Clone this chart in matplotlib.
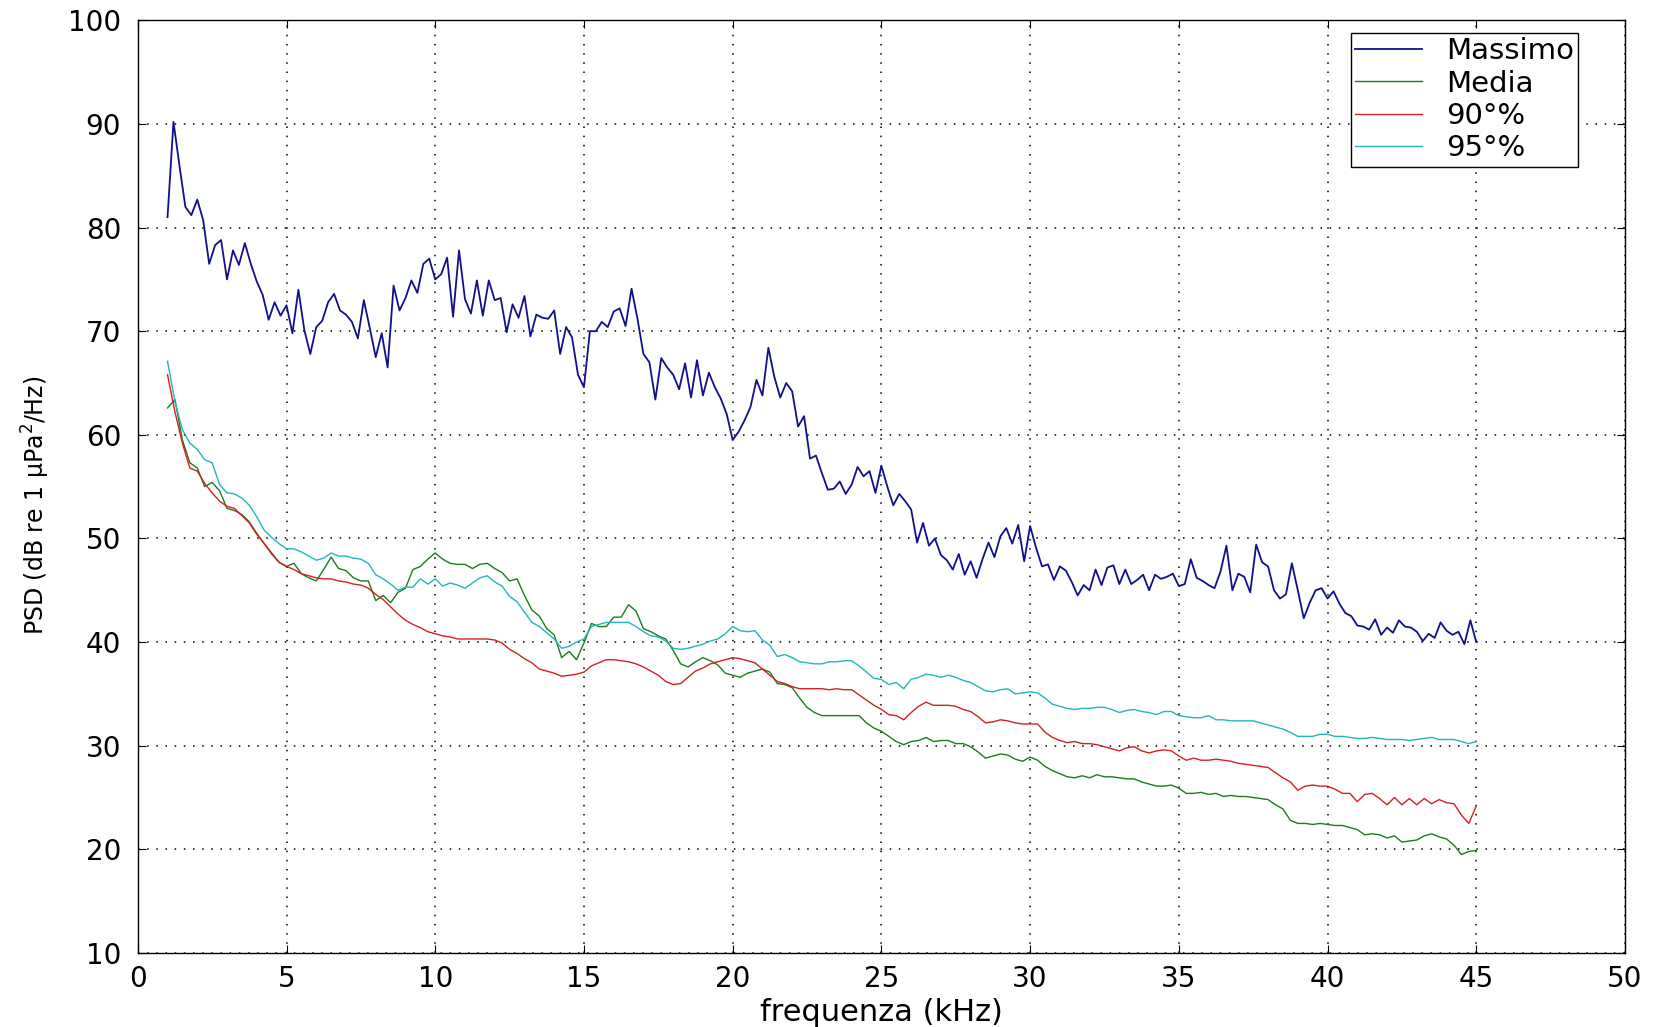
import numpy as np
from matplotlib import pyplot as plt

# PSD massima, passo 0.2 kHz da 1 a 45 kHz
massimo = [
    81.0, 90.2, 86.0, 82.0, 81.2, 82.7, 80.7, 76.5, 78.3, 78.8,
    75.0, 77.8, 76.4, 78.5, 76.5, 74.8, 73.5, 71.1, 72.8, 71.5,
    72.5, 69.8, 74.0, 70.1, 67.8, 70.4, 71.0, 72.8, 73.6, 72.0,
    71.6, 70.9, 69.3, 73.0, 70.3, 67.5, 69.8, 66.5, 74.4, 72.0,
    73.2, 74.9, 73.7, 76.5, 77.0, 75.0, 75.5, 77.1, 71.4, 77.8,
    73.1, 71.7, 74.9, 71.5, 74.9, 73.0, 73.2, 69.9, 72.6, 71.3,
    73.4, 69.5, 71.6, 71.3, 71.2, 72.0, 67.8, 70.4, 69.4, 65.8,
    64.6, 70.0, 70.0, 70.9, 70.4, 71.9, 72.2, 70.5, 74.1, 71.2,
    67.8, 67.0, 63.4, 67.4, 66.5, 65.8, 64.4, 66.9, 63.6, 67.2,
    63.8, 66.0, 64.6, 63.5, 62.0, 59.5, 60.3, 61.4, 62.7, 65.3,
    63.8, 68.4, 65.6, 63.6, 65.0, 64.2, 60.8, 61.8, 57.7, 58.0,
    56.3, 54.7, 54.8, 55.5, 54.3, 55.2, 56.9, 56.0, 56.5, 54.4,
    57.0, 55.0, 53.2, 54.3, 53.6, 52.8, 49.6, 51.5, 49.3, 50.0,
    48.4, 47.9, 47.0, 48.5, 46.5, 47.8, 46.2, 48.0, 49.6, 48.2,
    50.2, 51.0, 49.5, 51.3, 47.8, 51.2, 49.1, 47.3, 47.5, 46.0,
    47.3, 46.9, 45.8, 44.5, 45.5, 45.0, 47.0, 45.5, 47.2, 47.4,
    45.6, 47.0, 45.6, 46.0, 46.5, 45.0, 46.5, 46.1, 46.3, 46.6,
    45.4, 45.6, 48.0, 46.2, 45.9, 45.5, 45.2, 46.8, 49.3, 45.0,
    46.6, 46.3, 44.8, 49.4, 47.7, 47.3, 45.0, 44.2, 44.6, 47.6,
    45.0, 42.3, 43.8, 45.0, 45.2, 44.2, 44.9, 43.7, 42.8, 42.5,
    41.6, 41.5, 41.2, 42.2, 40.7, 41.4, 40.9, 42.1, 41.5, 41.4,
    41.0, 40.1, 40.8, 40.4, 41.9, 41.1, 40.7, 41.0, 39.8, 42.1,
    40.0,
]

# media e percentili, passo 0.25 kHz da 1 a 45 kHz
media = [
    62.6, 63.4, 59.5, 57.3, 56.8, 55.0, 55.4, 54.6,
    52.9, 52.7, 52.3, 51.6, 50.5, 49.5, 48.6, 47.7,
    47.3, 47.6, 46.6, 46.2, 45.9, 47.0, 48.2, 47.1,
    46.9, 46.2, 45.9, 45.9, 44.0, 44.5, 43.8, 44.8,
    45.2, 47.0, 47.3, 48.0, 48.6, 48.0, 47.6, 47.5,
    47.5, 47.1, 47.5, 47.6, 47.1, 46.7, 45.9, 46.1,
    44.5, 43.1, 42.5, 41.3, 40.7, 38.5, 39.1, 38.3,
    39.9, 41.8, 41.5, 41.5, 42.4, 42.4, 43.6, 43.0,
    41.3, 41.0, 40.6, 40.3, 39.2, 37.9, 37.6, 38.1,
    38.5, 38.2, 37.8, 37.0, 36.8, 36.6, 37.0, 37.2,
    37.4, 37.1, 36.0, 35.9, 35.6, 34.6, 33.7, 33.2,
    32.9, 32.9, 32.9, 32.9, 32.9, 32.9, 32.2, 31.7,
    31.4, 30.9, 30.4, 30.1, 30.4, 30.5, 30.8, 30.4,
    30.5, 30.5, 30.2, 30.2, 29.9, 29.4, 28.8, 29.0,
    29.2, 29.1, 28.7, 28.5, 28.9, 28.6, 28.0, 27.6,
    27.3, 27.0, 26.9, 27.1, 26.9, 27.2, 27.0, 27.0,
    26.9, 26.8, 26.8, 26.5, 26.3, 26.1, 26.1, 26.2,
    25.9, 25.4, 25.4, 25.5, 25.3, 25.4, 25.1, 25.2,
    25.1, 25.1, 25.0, 24.9, 24.8, 24.3, 23.9, 22.8,
    22.5, 22.5, 22.4, 22.5, 22.4, 22.3, 22.3, 22.1,
    21.9, 21.4, 21.5, 21.4, 21.1, 21.3, 20.7, 20.8,
    20.9, 21.3, 21.5, 21.2, 21.0, 20.4, 19.5, 19.8,
    19.9,
]

perc90 = [
    65.8, 62.2, 59.2, 56.8, 56.5, 55.3, 54.4, 53.6,
    53.1, 52.9, 52.2, 51.5, 50.4, 49.5, 48.5, 47.7,
    47.3, 47.0, 46.6, 46.4, 46.2, 46.1, 46.1, 45.9,
    45.8, 45.6, 45.5, 45.2, 44.6, 44.1, 43.4, 42.7,
    42.1, 41.7, 41.4, 41.0, 40.8, 40.6, 40.5, 40.3,
    40.3, 40.3, 40.3, 40.3, 40.2, 39.9, 39.3, 38.9,
    38.4, 38.0, 37.4, 37.2, 37.0, 36.7, 36.8, 36.9,
    37.1, 37.7, 38.0, 38.3, 38.3, 38.2, 38.1, 37.9,
    37.6, 37.2, 36.8, 36.2, 35.9, 36.0, 36.6, 37.2,
    37.5, 37.9, 38.1, 38.3, 38.5, 38.4, 38.2, 38.0,
    37.4, 36.8, 36.2, 36.0, 35.7, 35.5, 35.5, 35.5,
    35.5, 35.4, 35.5, 35.4, 35.4, 34.9, 34.4, 33.9,
    33.5, 33.0, 32.9, 32.5, 33.2, 33.8, 34.2, 33.9,
    33.9, 33.9, 33.8, 33.5, 33.3, 32.8, 32.2, 32.3,
    32.5, 32.4, 32.2, 32.1, 32.1, 32.1, 31.3, 30.8,
    30.5, 30.3, 30.4, 30.2, 30.2, 30.1, 29.9, 29.7,
    29.5, 29.8, 29.9, 29.5, 29.3, 29.5, 29.6, 29.5,
    29.0, 28.6, 28.8, 28.6, 28.6, 28.7, 28.6, 28.5,
    28.3, 28.2, 28.1, 28.0, 27.9, 27.4, 26.9, 26.5,
    25.7, 26.1, 26.2, 26.1, 26.1, 25.8, 25.4, 25.4,
    24.6, 25.3, 25.4, 24.9, 24.3, 25.0, 24.3, 24.9,
    24.3, 24.9, 24.4, 24.8, 24.5, 24.4, 23.3, 22.5,
    24.2,
]

perc95 = [
    67.1, 63.2, 60.5, 59.2, 58.6, 57.6, 57.3, 55.2,
    54.4, 54.3, 53.9, 53.2, 52.1, 50.8, 50.1, 49.5,
    49.0, 49.0, 48.7, 48.3, 47.9, 48.1, 48.6, 48.3,
    48.3, 48.1, 48.0, 47.6, 46.5, 46.1, 45.6, 45.0,
    45.3, 45.3, 46.1, 45.6, 46.1, 45.4, 45.7, 45.5,
    45.2, 45.7, 46.2, 46.4, 45.8, 45.4, 44.4, 43.9,
    42.9, 41.9, 41.5, 40.9, 40.3, 39.4, 39.6, 40.0,
    40.3, 41.5, 41.7, 41.9, 41.9, 41.9, 41.9, 41.5,
    41.0, 40.6, 40.5, 40.1, 39.4, 39.3, 39.4, 39.6,
    39.8, 40.1, 40.3, 40.8, 41.5, 41.1, 41.0, 41.1,
    40.2, 39.7, 38.6, 38.8, 38.5, 38.1, 38.0, 37.9,
    37.9, 38.1, 38.1, 38.2, 38.2, 37.7, 37.1, 36.5,
    36.4, 35.9, 36.1, 35.5, 36.4, 36.6, 36.9, 36.8,
    36.6, 36.8, 36.6, 36.3, 36.1, 35.7, 35.3, 35.2,
    35.4, 35.5, 35.0, 35.1, 35.2, 35.1, 34.6, 34.0,
    33.8, 33.6, 33.5, 33.6, 33.6, 33.7, 33.7, 33.5,
    33.2, 33.4, 33.5, 33.3, 33.2, 33.0, 33.3, 33.3,
    32.9, 32.8, 32.7, 32.7, 32.9, 32.5, 32.5, 32.4,
    32.4, 32.4, 32.4, 32.2, 32.0, 31.8, 31.6, 31.3,
    30.9, 30.9, 30.9, 31.1, 31.1, 30.9, 30.9, 30.8,
    30.7, 30.7, 30.8, 30.7, 30.6, 30.6, 30.6, 30.5,
    30.6, 30.7, 30.8, 30.6, 30.6, 30.6, 30.4, 30.2,
    30.4,
]

freq_max = 1.0 + 0.2 * np.arange(len(massimo))
freq = 1.0 + 0.25 * np.arange(len(media))

etichette = ['Massimo', 'Media', '90°%', '95°%']
colori = ['#10108a', '#1a7d1a', '#d42020', '#22b6bc']

plt.rcParams['font.family'] = ['DejaVu Sans']

fig = plt.figure(figsize=(16.58, 10.27), dpi=100)
ax = fig.add_axes([0.0831, 0.0721, 0.8970, 0.9081])

ax.plot(freq_max, massimo, color=colori[0], lw=1.3, label=etichette[0])
ax.plot(freq, media, color=colori[1], lw=1.0, label=etichette[1])
ax.plot(freq, perc90, color=colori[2], lw=1.0, label=etichette[2])
ax.plot(freq, perc95, color=colori[3], lw=1.0, label=etichette[3])

ax.set_xlim(0, 50)
ax.set_ylim(10, 100)
ax.set_xticks(np.arange(0, 51, 5))
ax.set_yticks(np.arange(10, 101, 10))

# griglia puntinata stile matlab
ax.grid(True, color='black', lw=1.1, linestyle=(0, (1, 5)))
ax.tick_params(direction='in', length=6, width=0.8, top=True, right=True,
               labelsize=20, colors='black')
ax.tick_params(axis='x', pad=9)
ax.tick_params(axis='y', pad=12)
for sp in ax.spines.values():
    sp.set_linewidth(1.0)

ax.set_xlabel('frequenza (kHz)', fontsize=22)
ax.set_ylabel('PSD (dB re 1 μPa$^2$/Hz)', fontsize=17)
ax.xaxis.set_label_coords(0.5, -0.048)
ax.yaxis.set_label_coords(-0.058, 0.48)

leg = ax.legend(loc='upper right', bbox_to_anchor=(0.9684, 0.9865), borderaxespad=0,
                fontsize=21, fancybox=False, framealpha=1, edgecolor='black',
                handlelength=2.3, handletextpad=0.8, labelspacing=0.15,
                borderpad=0.15)
leg.get_frame().set_linewidth(1.0)

plt.savefig('out.png', dpi=100)
